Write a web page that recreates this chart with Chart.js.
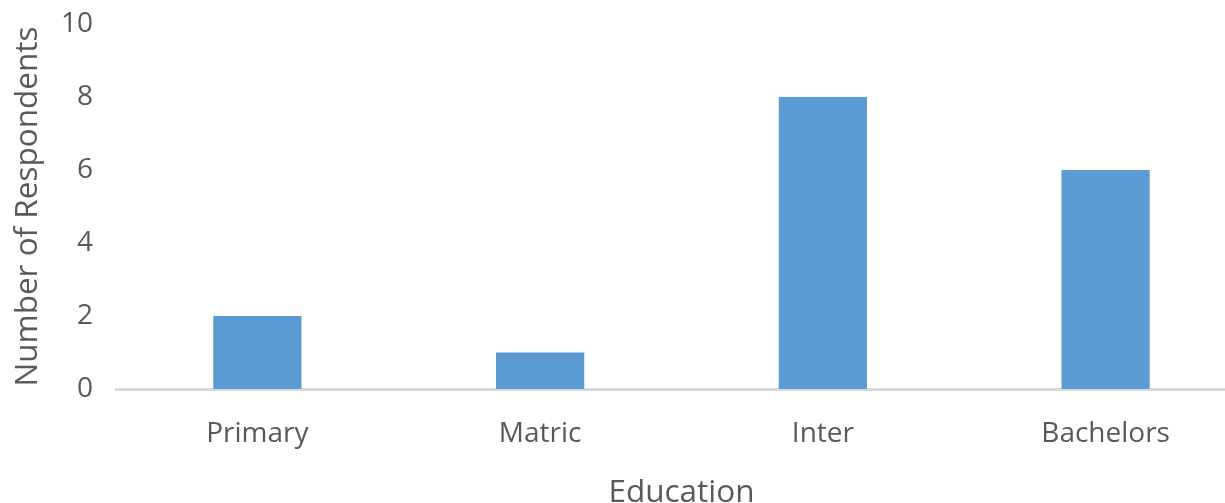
<!DOCTYPE html>
<html lang="en">
<head>
  <meta charset="UTF-8">
  <script src="https://cdn.jsdelivr.net/npm/chart.js"></script>
  <title>Education</title>
  <style>
    html, body {
      margin: 0;
      padding: 0;
      background: #fff;
      overflow: hidden;
    }
    #wrap {
      width: 1260px;
      height: 512px;
    }
  </style>
</head>
<body>
  <div id="wrap"><canvas id="chart"></canvas></div>
  <script>
    const categories = ['Primary', 'Matric', 'Inter', 'Bachelors'];
    const respondents = [2, 1, 8, 6];
    const yTicks = [0, 2, 4, 6, 8, 10];

    const textColor = '#595959';
    const font = "'Open Sans', 'Noto Sans', sans-serif";

    new Chart(document.getElementById('chart'), {
      type: 'bar',
      data: {
        labels: categories,
        datasets: [{
          data: respondents,
          backgroundColor: '#5b9bd5',
          categoryPercentage: 1,
          barPercentage: 0.312
        }]
      },
      options: {
        responsive: true,
        maintainAspectRatio: false,
        animation: false,
        layout: { padding: { top: 24, right: 13, left: 0, bottom: 0 } },
        plugins: {
          legend: { display: false },
          tooltip: { enabled: false }
        },
        scales: {
          x: {
            grid: { display: false },
            border: { display: true, color: '#d9d9d9', width: 3 },
            ticks: { color: textColor, font: { family: font, size: 28 }, padding: 20 },
            title: {
              display: true,
              text: 'Education',
              color: textColor,
              font: { family: font, size: 31.5 },
              padding: { top: 0, bottom: 0 }
            },
            afterFit: axis => {
              axis.height = 123;
              axis.paddingLeft = 0;
              axis.paddingRight = 0;
            }
          },
          y: {
            min: 0,
            max: 10,
            afterBuildTicks: axis => { axis.ticks = yTicks.map(v => ({ value: v })); },
            grid: { display: false },
            border: { display: false },
            ticks: { color: textColor, font: { family: font, size: 28 }, padding: 15 },
            title: {
              display: true,
              text: 'Number of Respondents',
              color: textColor,
              font: { family: font, size: 31.5 },
              padding: { top: 9, bottom: 0 }
            },
            afterFit: axis => {
              axis.width = 116;
              axis.paddingTop = 0;
              axis.paddingBottom = 0;
            }
          }
        }
      }
    });
  </script>
</body>
</html>
